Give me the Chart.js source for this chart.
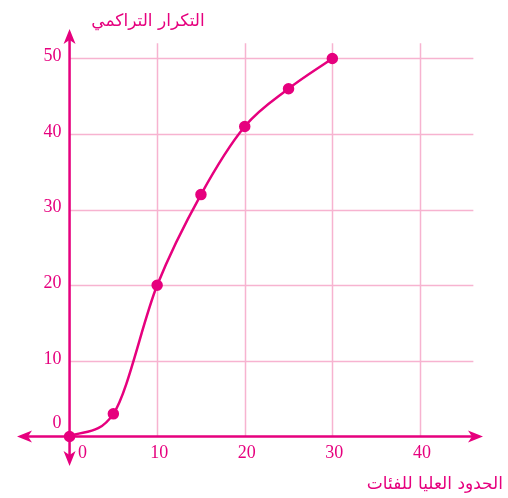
<!DOCTYPE html>
<html>
<head>
<meta charset="utf-8">
<script src="https://cdn.jsdelivr.net/npm/chart.js@4.4.0/dist/chart.umd.min.js"></script>
<style>
  html, body { margin: 0; padding: 0; background: #fff; }
  #wrap { width: 508px; height: 498px; }
</style>
</head>
<body>
<div id="wrap"><canvas id="c" width="508" height="498"></canvas></div>
<script>
// upper class limits and cumulative frequency
const upperLimits = [0, 5, 10, 15, 20, 25, 30];
const cumFreq = [0, 3, 20, 32, 41, 46, 50];

const xTicks = [0, 10, 20, 30, 40];
const yTicks = [0, 10, 20, 30, 40, 50];

const yTitle = 'التكرار التراكمي';
const xTitle = 'الحدود العليا للفئات';

const PINK = '#e6007e';
const GRID = '#f7b3d0';

function arrow(ctx, x, y, dir) {
    // dir: 'up' | 'down' | 'left' | 'right'
    const len = 15, half = 6, notch = 4;
    ctx.save();
    ctx.translate(x, y);
    const rot = { up: 0, right: Math.PI / 2, down: Math.PI, left: -Math.PI / 2 }[dir];
    ctx.rotate(rot);
    ctx.beginPath();
    ctx.moveTo(0, 0);
    ctx.lineTo(half, len);
    ctx.lineTo(0, len - notch);
    ctx.lineTo(-half, len);
    ctx.closePath();
    ctx.fillStyle = PINK;
    ctx.fill();
    ctx.restore();
}

const axesPlugin = {
    id: 'axesPlugin',
    beforeDatasetsDraw(chart) {
        const ctx = chart.ctx;
        const xs = chart.scales.x, ys = chart.scales.y;
        const area = chart.chartArea;
        const x0 = xs.getPixelForValue(0), y0 = ys.getPixelForValue(0);

        // grid
        ctx.save();
        ctx.strokeStyle = GRID;
        ctx.lineWidth = 1.5;
        xTicks.slice(1).forEach(v => {
            const px = Math.round(xs.getPixelForValue(v)) + 0.5;
            ctx.beginPath();
            ctx.moveTo(px, ys.getPixelForValue(52));
            ctx.lineTo(px, y0);
            ctx.stroke();
        });
        yTicks.slice(1).forEach(v => {
            const py = Math.round(ys.getPixelForValue(v)) + 0.5;
            ctx.beginPath();
            ctx.moveTo(x0, py);
            ctx.lineTo(xs.getPixelForValue(46.1), py);
            ctx.stroke();
        });

        // axes
        ctx.strokeStyle = PINK;
        ctx.lineWidth = 2.5;
        ctx.beginPath();
        ctx.moveTo(area.left + 6, y0);
        ctx.lineTo(area.right - 6, y0);
        ctx.moveTo(x0, area.top + 6);
        ctx.lineTo(x0, area.bottom - 6);
        ctx.stroke();
        arrow(ctx, x0, area.top, 'up');
        arrow(ctx, x0, area.bottom, 'down');
        arrow(ctx, area.left, y0, 'left');
        arrow(ctx, area.right, y0, 'right');

        // tick labels
        ctx.fillStyle = PINK;
        ctx.font = '18px "Liberation Serif", serif';
        ctx.textBaseline = 'middle';
        ctx.textAlign = 'right';
        yTicks.forEach(v => {
            const py = ys.getPixelForValue(v);
            if (v === 0) ctx.fillText('0', x0 - 8, py - 13);
            else ctx.fillText(String(v), x0 - 8, py - 2);
        });
        ctx.textAlign = 'center';
        xTicks.forEach(v => {
            const px = xs.getPixelForValue(v);
            if (v === 0) ctx.fillText('0', px + 13, y0 + 17);
            else ctx.fillText(String(v), px + 2, y0 + 17);
        });

        // titles
        ctx.font = '17px "DejaVu Sans", sans-serif';
        ctx.direction = 'rtl';
        ctx.textAlign = 'center';
        ctx.fillText(yTitle, 148, 22);
        ctx.textAlign = 'right';
        ctx.font = '17px "DejaVu Sans", sans-serif';
        ctx.fillText(xTitle, 503, 485);
        ctx.restore();
    }
};

new Chart(document.getElementById('c'), {
    type: 'scatter',
    data: {
        datasets: [{
            data: upperLimits.map((x, i) => ({ x, y: cumFreq[i] })),
            showLine: true,
            borderColor: PINK,
            backgroundColor: PINK,
            borderWidth: 2.5,
            pointRadius: 4.5,
            pointHoverRadius: 4.5,
            cubicInterpolationMode: 'monotone'
        }]
    },
    options: {
        responsive: false,
        animation: false,
        layout: { padding: { left: 17, right: 25, top: 29, bottom: 32 } },
        plugins: { legend: { display: false }, tooltip: { enabled: false } },
        scales: {
            x: { type: 'linear', min: -6, max: 47.2, display: false },
            y: { type: 'linear', min: -3.9, max: 53.9, display: false }
        }
    },
    plugins: [axesPlugin]
});
</script>
</body>
</html>
